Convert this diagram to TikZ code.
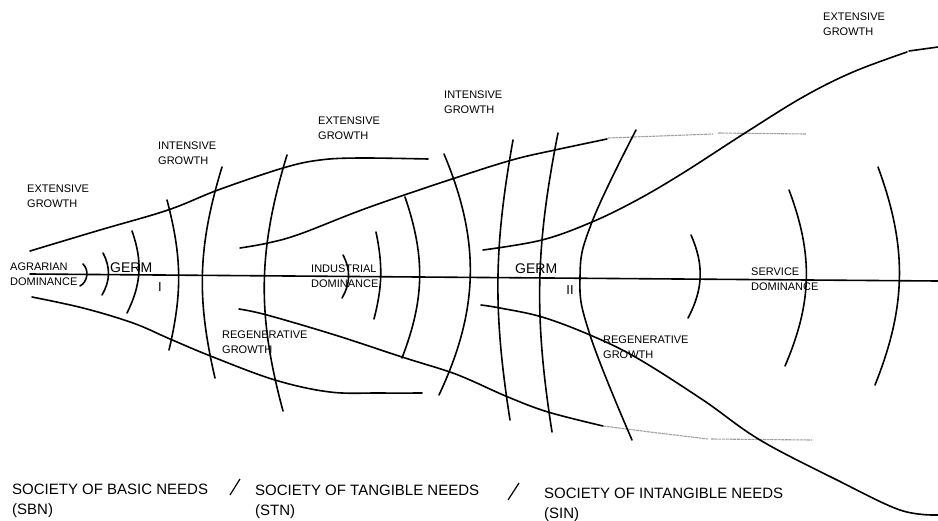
\documentclass[tikz,border=0pt]{standalone}
\usepackage{fontspec}
\setmainfont{Liberation Sans}
\begin{document}
\begin{tikzpicture}[x=1pt,y=-1pt,
  curve/.style={line width=1.6pt, line cap=round, line join=round},
  faint/.style={line width=1.1pt, gray!75, dash pattern=on 3pt off 0.7pt},
  lbl/.style={font=\fontsize{11}{15}\selectfont, align=left, anchor=north west, inner sep=0pt},
  germ/.style={font=\fontsize{14}{16}\selectfont, anchor=west, inner sep=0pt},
  roman/.style={font=\fontsize{13}{15}\selectfont, anchor=center, inner sep=0pt},
  big/.style={font=\fontsize{15}{20}\selectfont, align=left, anchor=north west, inner sep=0pt}]
\useasboundingbox (0,0) rectangle (938,520);

% main axis
\draw[curve] (30,274) -- (938,281);

% stage 1 envelope
\draw[curve] plot[smooth, tension=0.6] coordinates {(30,251) (100,230) (168,210) (218,190) (283,168) (320,160) (360,158) (428,159)};
\draw[curve] plot[smooth, tension=0.6] coordinates {(32,297) (83,308) (133,323) (170,339) (213,357) (275,380) (330,392) (380,393) (422,393)};

% stage 2 envelope
\draw[curve] plot[smooth, tension=0.6] coordinates {(240,248) (268,243) (300,234) (367,208) (452,179) (512,160) (555,150) (607,139)};
\draw[faint] (608,138) -- (660,136) -- (713,134);
\draw[faint] (718,133) -- (806,134);
\draw[curve] plot[smooth, tension=0.6] coordinates {(239,309) (267,315) (335,335) (402,357) (447,371) (470,380) (508,397) (548,412) (603,426)};
\draw[faint] (603,426) -- (650,432) -- (708,439);
\draw[faint] (711,439) -- (812,440);

% stage 3 envelope
\draw[curve] plot[smooth, tension=0.6] coordinates {(483,250) (542,240) (592,222) (637,200) (683,173) (745,133) (803,97) (853,72) (907,52)};
\draw[curve] (909,51) -- (938,47);
\draw[curve] plot[smooth, tension=0.6] coordinates {(481,305) (500,308) (542,317) (590,335) (637,358) (703,400) (760,440) (837,480) (900,510) (938,515)};

% stage 1 arcs
\draw[curve] (83,264) to[bend left=55] (80,286);
\draw[curve] (103,253) to[bend left=29] (102,295);
\draw[curve] (132,231) to[bend left=23] (127,313);
\draw[curve] (167,200) to[bend left=14] (169,350);
\draw[curve] (222,167) to[bend right=15] (215,378);
\draw[curve] (287,155) to[bend right=16] (283,411);

% stage 2 arcs
\draw[curve] (343,255) to[bend left=29] (342,298);
\draw[curve] (376,232) to[bend left=13] (374,319);
\draw[curve] (405,197) to[bend left=20] (402,358);
\draw[curve] (444,154) to[bend left=24] (439,395);
\draw[curve] (513,140) to[bend right=9.5] (510,420);
\draw[curve] (558,133) to[bend right=10] (552,432);
\draw[curve] plot[smooth, tension=0.7] coordinates {(636,130) (592,222) (580,277) (590,335) (632,440)};

% stage 3 arcs
\draw[curve] (691,235) to[bend left=26] (688,318);
\draw[curve] (789,190) to[bend left=22] (785,366);
\draw[curve] (878,167) to[bend left=21] (875,385);

% labels
\node[lbl] (ext1) at (27,185) {EXTENSIVE\\GROWTH};
\node[lbl] (int1) at (158,142) {INTENSIVE\\GROWTH};
\node[lbl] (ext2) at (318,117) {EXTENSIVE\\GROWTH};
\node[lbl] (int2) at (444,91) {INTENSIVE\\GROWTH};
\node[lbl] (ext3) at (823,13) {EXTENSIVE\\GROWTH};
\node[lbl] (agr) at (10,263) {AGRARIAN\\DOMINANCE};
\node[lbl] (ind) at (311,265) {INDUSTRIAL\\DOMINANCE};
\node[lbl] (serv) at (751,268) {SERVICE\\DOMINANCE};
\node[lbl] (reg1) at (222,331) {REGENERATIVE\\GROWTH};
\node[lbl] (reg2) at (603,336) {REGENERATIVE\\GROWTH};

\node[germ] (germ1) at (110,268) {GERM};
\node[germ] (germ2) at (515,269) {GERM};
\node[roman] (r1) at (160,287) {I};
\node[roman] (r2) at (570,290) {II};

\node[big] (sbn) at (12,484) {SOCIETY OF BASIC NEEDS\\(SBN)};
\node[big] (stn) at (255,485) {SOCIETY OF TANGIBLE NEEDS\\(STN)};
\node[big] (sin) at (544,488) {SOCIETY OF INTANGIBLE NEEDS\\(SIN)};
\draw[line width=1.2pt] (230,495) -- (240,479);
\draw[line width=1.2pt] (508,500) -- (519,483);
\end{tikzpicture}
\end{document}
